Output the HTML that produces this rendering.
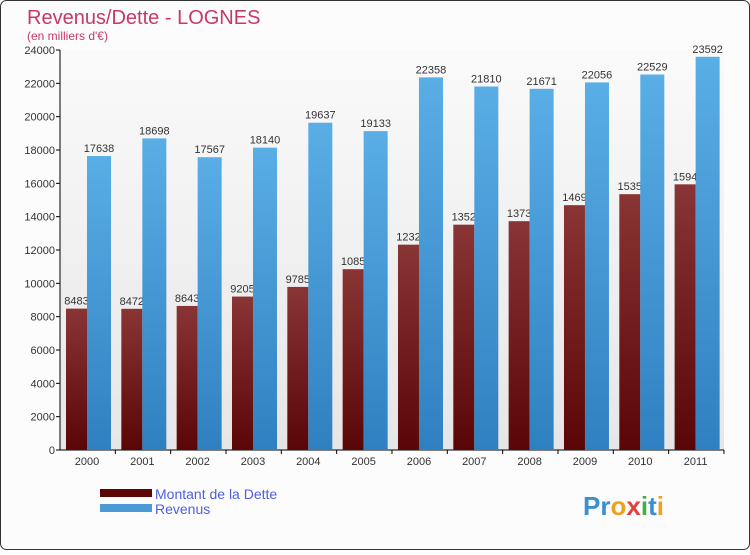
<!DOCTYPE html>
<html><head><meta charset="utf-8"><style>
body{margin:0;background:#fff;font-family:"Liberation Sans",sans-serif}
svg text{font-family:"Liberation Sans",sans-serif}
</style></head><body>
<svg width="750" height="550" viewBox="0 0 750 550">
<defs>
<linearGradient id="bg" x1="0" y1="0" x2="0" y2="1"><stop offset="0" stop-color="#fafafa"/><stop offset="1" stop-color="#e6e6e6"/></linearGradient>
<linearGradient id="rd" x1="0" y1="0" x2="0" y2="1"><stop offset="0" stop-color="#8a3535"/><stop offset="1" stop-color="#5a0606"/></linearGradient>
<linearGradient id="bl" x1="0" y1="0" x2="0" y2="1"><stop offset="0" stop-color="#5aaee6"/><stop offset="1" stop-color="#2f80c0"/></linearGradient>
</defs>
<rect x="0.5" y="0.5" width="749" height="549" rx="6" fill="#fcfcfc" stroke="#333"/>
<rect x="60" y="50" width="664" height="400" fill="url(#bg)"/>
<text x="27" y="24" font-size="20" fill="#c8386a">Revenus/Dette - LOGNES</text>
<text x="27" y="40" font-size="12" fill="#c8386a">(en milliers d'€)</text>
<g id="axes"></g>
<g id="bars"></g>
<rect x="100" y="489" width="52" height="8" fill="#5a0606"/>
<text x="155" y="499" font-size="14" fill="#4f5fe0">Montant de la Dette</text>
<rect x="100" y="504" width="52" height="8" fill="#4a9ad8"/>
<text x="155" y="514" font-size="14" fill="#4f5fe0">Revenus</text>
<text x="583" y="515" font-size="26" font-weight="bold"><tspan fill="#3a8fd0">Pr</tspan><tspan fill="#f0a020">o</tspan><tspan fill="#e04040">x</tspan><tspan fill="#40b040">i</tspan><tspan fill="#3a8fd0">t</tspan><tspan fill="#f0a020">i</tspan></text>
</svg>
<script>
const years=["2000","2001","2002","2003","2004","2005","2006","2007","2008","2009","2010","2011"];
const dette=[8483,8472,8643,9205,9785,10850,12320,13520,13730,14690,15350,15940];
const detteLabels=["8483","8472","8643","9205","9785","1085","1232","1352","1373","1469","1535","1594"];
const revenus=[17638,18698,17567,18140,19637,19133,22358,21810,21671,22056,22529,23592];
const ticks=[0,2000,4000,6000,8000,10000,12000,14000,16000,18000,20000,22000,24000];
const NS="http://www.w3.org/2000/svg";
const x0=60,gw=55.33,y0=450,ymax=24000,ph=400;
const Y=v=>y0-v/ymax*ph;
function mk(t,a,p){const e=document.createElementNS(NS,t);for(const k in a)e.setAttribute(k,a[k]);p.appendChild(e);return e;}
const ax=document.getElementById('axes'),bars=document.getElementById('bars');
ticks.forEach(t=>{
 const l=mk('line',{x1:56,x2:60,y1:Y(t),y2:Y(t),stroke:'#000'},ax);
 
 
 const tx=mk('text',{x:55,y:Y(t)+4,'font-size':11,fill:'#333','text-anchor':'end'},ax);tx.textContent=t;
 
 
});
const yl=mk('line',{x1:60,x2:60,y1:50,y2:450,stroke:'#000'},ax);


const xl=mk('line',{x1:60,x2:724,y1:450,y2:450,stroke:'#000'},ax);


years.forEach((yr,i)=>{
 const gx=x0+i*gw;
 const d=mk('rect',{x:gx+6,y:Y(dette[i]),width:21,height:y0-Y(dette[i]),fill:'url(#rd)'},bars);
 
 
 const dl=mk('text',{x:gx+16.5,y:Y(dette[i])-4,'font-size':11,fill:'#333','text-anchor':'middle'},bars);dl.textContent=detteLabels[i];
 
 
 const r=mk('rect',{x:gx+27,y:Y(revenus[i]),width:24,height:y0-Y(revenus[i]),fill:'url(#bl)'},bars);
 
 
 const rl=mk('text',{x:gx+39,y:Y(revenus[i])-4,'font-size':11,fill:'#333','text-anchor':'middle'},bars);rl.textContent=revenus[i];
 
 
 const xt=mk('text',{x:gx+27,y:465,'font-size':11,fill:'#333','text-anchor':'middle'},bars);xt.textContent=yr;
 
 
 const tk=mk('line',{x1:gx+gw,x2:gx+gw,y1:450,y2:454,stroke:'#000'},bars);
 
 
});
</script>
</body></html>
